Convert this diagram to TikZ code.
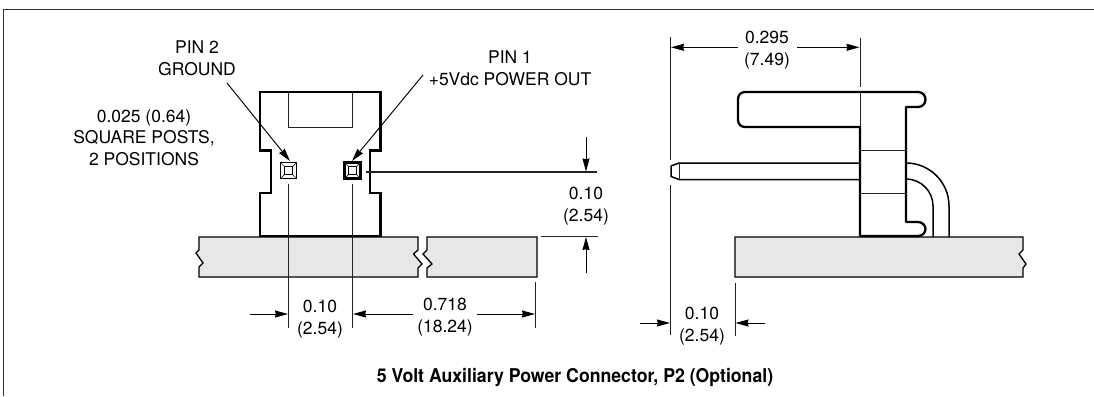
\documentclass[tikz,border=0pt]{standalone}
\usepackage{fontspec}
\usepackage{graphicx}
\setmainfont{TeX Gyre Heros}
\usetikzlibrary{arrows.meta}
\definecolor{boardgray}{HTML}{E6E7E8}
\definecolor{thinline}{HTML}{222222}
\tikzset{
  lbl/.style={inner sep=0pt,align=center,text=black,font=\fontsize{17.5}{21.7}\selectfont},
  ttl/.style={inner sep=0pt,font=\fontsize{19}{22}\selectfont\bfseries},
  dimline/.style={line width=.95pt,color=thinline},
  tipline/.style={line width=.95pt,-{Stealth[length=13pt,width=7pt,inset=.8pt]}},
  board/.style={fill=boardgray,draw=black,line width=1.3pt},
  thick body/.style={line width=2.6pt,line join=miter},
  bodyline/.style={line width=2.3pt,line join=round},
  inner line/.style={line width=1pt,color=thinline},
  pinline/.style={line width=1.5pt},
  post/.style={draw=black,fill=white},
}
\begin{document}
\begin{tikzpicture}[x=1pt,y=-1pt]
\useasboundingbox (0,0) rectangle (1094,396);
% frame
\draw[line width=1.3pt,color=black!80] (3.5,396) -- (3.5,9.5) -- (1094,9.5);
% boards
\draw[board] (199,237) -- (418,237) -- (418,250) -- (413.5,254) -- (422,264) -- (418,268) -- (418,277) -- (199,277) -- (199,267) -- (203,263) -- (196,253) -- (199,250) -- cycle;
\draw[board] (427,237) -- (537,237) -- (537,277) -- (427,277) -- (427,268) -- (432,264) -- (423,254) -- (427,250) -- cycle;
\draw[board] (735,237) -- (1023,237) -- (1023,250) -- (1019,254) -- (1026,264) -- (1023,268) -- (1023,277) -- (735,277) -- cycle;
% front view connector
\draw[thick body] (260,236) -- (260,193) -- (271,193) -- (271,150.5) -- (260,150.5) -- (260,92) -- (380.5,92) -- (380.5,150.5) -- (370,150.5) -- (370,193) -- (380.5,193) -- (380.5,236) -- cycle;
\draw[inner line] (288.5,92) -- (288.5,127) -- (352.5,127) -- (352.5,92);
% posts
\draw[post,line width=1.9pt] (280.5,162.5) rectangle (296.5,178.5);
\draw[inner line,line width=.7pt] (280.5,162.5) -- (284.5,166.5) (296.5,162.5) -- (292.5,166.5) (280.5,178.5) -- (284.5,174.5) (296.5,178.5) -- (292.5,174.5);
\draw[line width=1pt] (284.5,166.5) rectangle (292.5,174.5);
\draw[post,line width=2.6pt] (344.5,162.5) rectangle (360.5,178.5);
\draw[inner line,line width=.7pt] (344.5,162.5) -- (348.5,166.5) (360.5,162.5) -- (356.5,166.5) (344.5,178.5) -- (348.5,174.5) (360.5,178.5) -- (356.5,174.5);
\draw[line width=1pt] (348.5,166.5) rectangle (356.5,174.5);
% side view connector
\draw[pinline] (906,163) [rounded corners=43pt] -- (949,163) -- (949,237);
\draw[pinline] (906,179) [rounded corners=27pt] -- (933,179) -- (933,237);
\draw[bodyline] (860,127) -- (745,127) .. controls (741,127) and (738,124) .. (738,120) -- (738,99) .. controls (738,95) and (741,92) .. (745,92) -- (918,92) .. controls (922.5,92) and (925.5,95.5) .. (925.5,99.5) .. controls (925.5,103.5) and (922.5,107) .. (918,107) -- (906,107) -- (906,222) -- (918,222) .. controls (922.5,222) and (925.5,225.5) .. (925.5,229) .. controls (925.5,232.5) and (922.5,236) .. (918,236) -- (860,236) -- cycle;
\draw[inner line] (860,92) -- (860,127);
\draw[inner line] (860,150) -- (906,150) (860,193) -- (906,193);
\draw[pinline] (860,163) -- (679,163) -- (671,166) -- (671,176.5) -- (679,179.5) -- (860,179.5);
\draw[inner line,line width=.7pt] (679.5,163) -- (679.5,179.5);
% extension line coordinates
\coordinate (pA) at (288.5,184);   \coordinate (pAb) at (288.5,327.5);
\coordinate (pB) at (352.5,184);   \coordinate (pBb) at (352.5,327.5);
\coordinate (eC) at (535.5,282);   \coordinate (eCb) at (535.5,327.5);
\coordinate (hA) at (366,172);     \coordinate (hAe) at (597,172);
\coordinate (hB) at (541,236.5);   \coordinate (hBe) at (598,236.5);
\coordinate (sL) at (670.3,37);    \coordinate (sLm) at (670.3,160);
\coordinate (sLn) at (670.3,185);  \coordinate (sLb) at (670.3,335);
\coordinate (sR) at (860,38.5);    \coordinate (sRe) at (860,87);
\coordinate (sB) at (735,283);     \coordinate (sBb) at (735,336);
\draw[dimline] (pA) -- (pAb);
\draw[dimline] (pB) -- (pBb);
\draw[dimline] (eC) -- (eCb);
\draw[dimline,line width=1.1pt] (hA) -- (hAe);
\draw[dimline] (hB) -- (hBe);
\draw[dimline] (sL) -- (sLm);
\draw[dimline] (sLn) -- (sLb);
\draw[dimline] (sR) -- (sRe);
\draw[dimline] (sB) -- (sBb);
% arrows
\coordinate (a1s) at (250,314);   \coordinate (a1t) at (288,314);
\coordinate (a2s) at (413,314);   \coordinate (a2t) at (353,314);
\coordinate (a3s) at (477,314);   \coordinate (a3t) at (535,314);
\coordinate (a4s) at (586,137);   \coordinate (a4t) at (586,171.5);
\coordinate (a5s) at (586,273);   \coordinate (a5t) at (586,237);
\coordinate (a6s) at (738,47.3);  \coordinate (a6t) at (671,47.3);
\coordinate (a7s) at (797,47.3);  \coordinate (a7t) at (859.5,47.3);
\coordinate (a8s) at (640,323);   \coordinate (a8t) at (670,323);
\coordinate (a9s) at (765,323);   \coordinate (a9t) at (735.5,323);
\coordinate (a10s) at (227,83);   \coordinate (a10t) at (290,161);
\coordinate (a11s) at (423,75);   \coordinate (a11t) at (352,161);
\foreach \n in {1,...,11}{\draw[tipline] (a\n s) -- (a\n t);}
% labels
\node[lbl] (pin2) at (197,58.5) {PIN 2\\GROUND};
\node[lbl] (pin1) at (510,68.5) {PIN 1\\+5Vdc POWER OUT};
\node[lbl] (post) at (144,137.5) {0.025 (0.64)\\SQUARE POSTS,\\2 POSITIONS};
\node[lbl] (dA) at (320,319) {0.10\\(2.54)};
\node[lbl] (dB) at (445,317) {0.718\\(18.24)};
\node[lbl] (dC) at (586,206) {0.10\\(2.54)};
\node[lbl] (dD) at (767,50) {0.295\\(7.49)};
\node[lbl] (dE) at (702,326) {0.10\\(2.54)};
\node[ttl] (title) at (575,377) {\scalebox{0.93}[1]{5 Volt Auxiliary Power Connector, P2 (Optional)}};
\end{tikzpicture}
\end{document}
